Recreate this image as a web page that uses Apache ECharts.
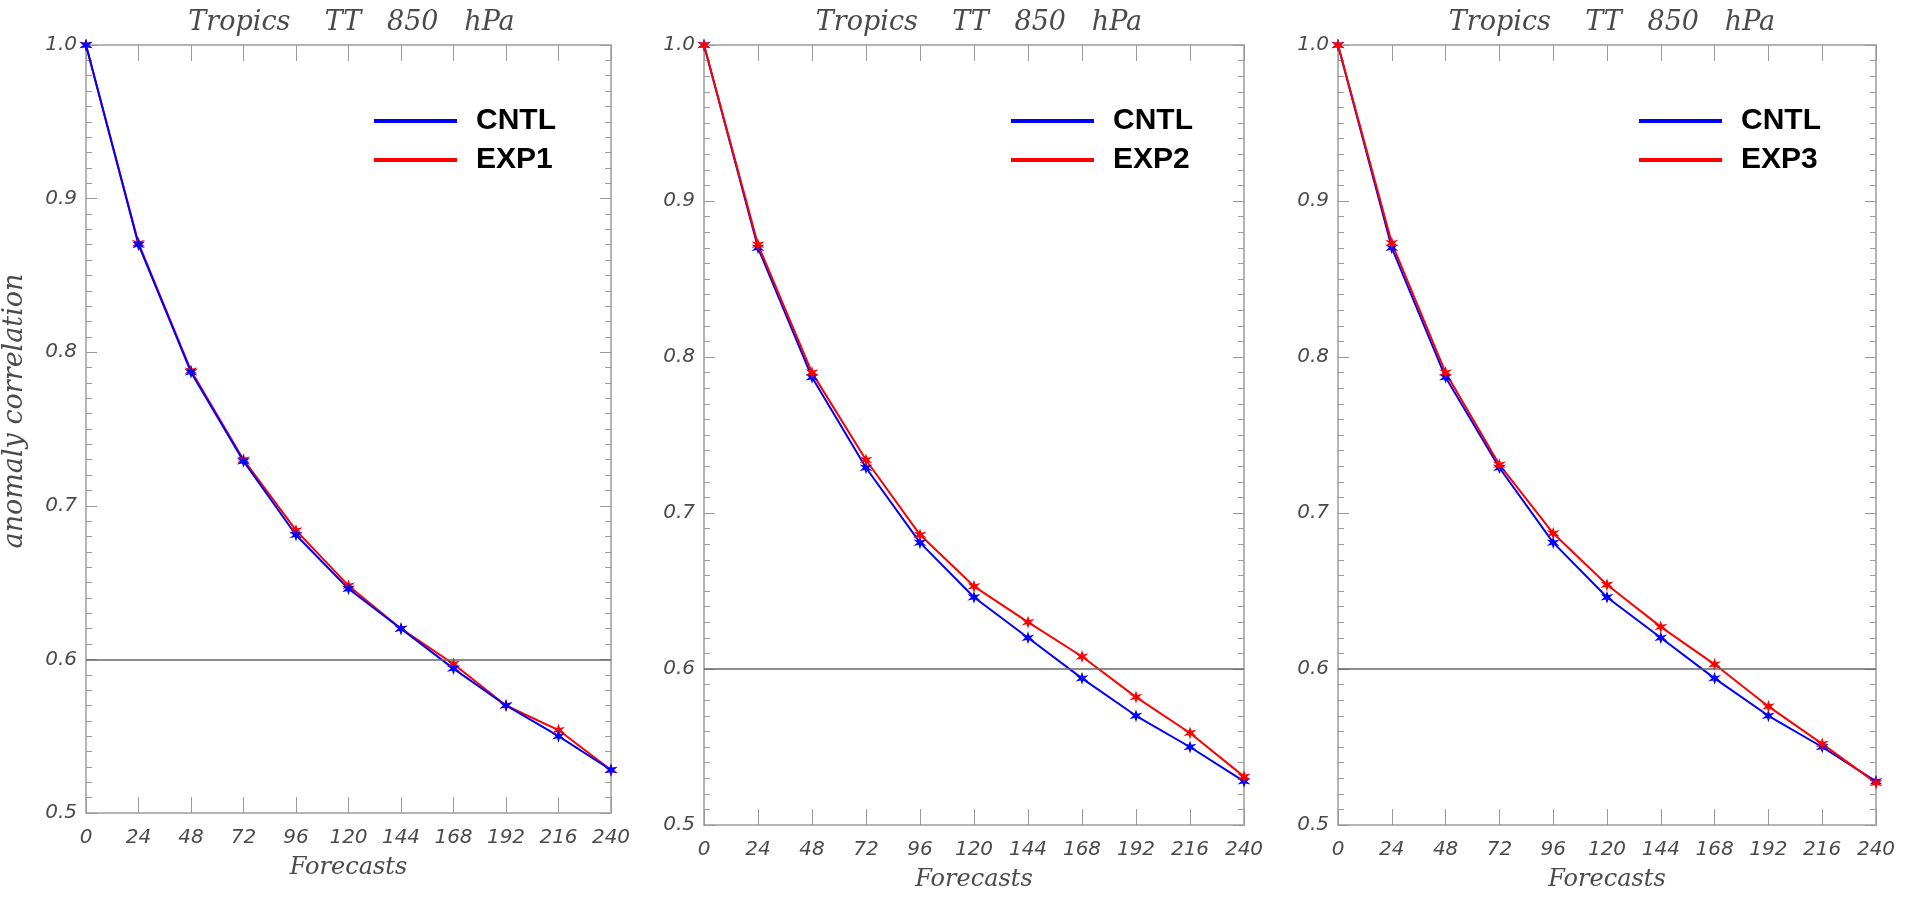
<!DOCTYPE html>
<html>
<head>
<meta charset="utf-8">
<script src="https://cdn.jsdelivr.net/npm/echarts@6/dist/echarts.min.js"></script>
<style>
html,body{margin:0;padding:0;background:#fff;}
#chart{width:1909px;height:897px;}
</style>
</head>
<body>
<div id="chart"></div>
<script>
// ---- data ----
const forecastHours = [0, 24, 48, 72, 96, 120, 144, 168, 192, 216, 240];
const cntl = [1.000, 0.870, 0.787, 0.729, 0.681, 0.646, 0.620, 0.594, 0.570, 0.550, 0.528];
const exp1 = [1.000, 0.871, 0.788, 0.730, 0.684, 0.648, 0.620, 0.597, 0.570, 0.554, 0.528];
const exp2 = [1.000, 0.872, 0.790, 0.734, 0.686, 0.653, 0.630, 0.608, 0.582, 0.559, 0.531];
const exp3 = [1.000, 0.873, 0.790, 0.731, 0.687, 0.654, 0.627, 0.603, 0.576, 0.552, 0.527];
const expNames = ['EXP1', 'EXP2', 'EXP3'];
const expData = [exp1, exp2, exp3];
const panelTitle = 'Tropics    TT   850   hPa';
const refLineValue = 0.6;

// ---- layout / style ----
const grids = [
  {left: 82, top: 45, width: 529, height: 768},
  {left: 704, top: 45, width: 540, height: 783},
  {left: 1338, top: 45, width: 538, height: 783}
];
const legendLeft = [369, 1006, 1634];
const BLUE = '#0000ff', RED = '#ff0000';
const AXIS_COLOR = '#b4b4b4', TICK_COLOR = '#9a9a9a';
const labelFont = {fontFamily: 'DejaVu Sans', fontStyle: 'italic', fontSize: 20, color: '#4a4a4a'};
const serifFont = {fontFamily: 'DejaVu Serif', fontStyle: 'italic', color: '#4a4a4a'};

function starPath(n, inner) {
  const pts = [];
  for (let k = 0; k < 2 * n; k++) {
    const a = Math.PI * k / n - Math.PI / 2;
    const r = (k % 2) ? inner : 1;
    pts.push((10 * r * Math.cos(a)).toFixed(2) + ',' + (10 * r * Math.sin(a)).toFixed(2));
  }
  return 'path://M' + pts.join('L') + 'Z';
}
const STAR = starPath(6, 0.38);

const pairs = (ys) => forecastHours.map((x, i) => [x, ys[i]]);

const option = {
  animation: false,
  backgroundColor: '#fff',
  title: [], grid: [], xAxis: [], yAxis: [], legend: [], series: []
};

grids.forEach((g, i) => {
  option.grid.push({left: g.left, top: g.top, width: g.width, height: g.height, containLabel: false});
  option.title.push({
    text: panelTitle,
    left: g.left + g.width / 2,
    textAlign: 'center',
    top: 4,
    textStyle: Object.assign({}, serifFont, {fontSize: 27, fontWeight: 'normal'})
  });
  // bottom x axis
  option.xAxis.push({
    type: 'value', gridIndex: i, position: 'bottom',
    min: 0, max: 240, interval: 24,
    name: 'Forecasts', nameLocation: 'middle', nameGap: 43,
    nameTextStyle: Object.assign({}, serifFont, {fontSize: 24}),
    axisLine: {show: true, onZero: false, lineStyle: {color: AXIS_COLOR, width: 2}},
    axisTick: {show: true, inside: true, length: 16, lineStyle: {color: TICK_COLOR, width: 1}},
    axisLabel: Object.assign({}, labelFont, {margin: 15}),
    splitLine: {show: false}
  });
  // top x axis (mirror)
  option.xAxis.push({
    type: 'value', gridIndex: i, position: 'top',
    min: 0, max: 240, interval: 24,
    axisLine: {show: true, onZero: false, lineStyle: {color: AXIS_COLOR, width: 2}},
    axisTick: {show: true, inside: true, length: 16, lineStyle: {color: TICK_COLOR, width: 1}},
    axisLabel: {show: false},
    splitLine: {show: false}
  });
  // left y axis
  const yLeft = {
    type: 'value', gridIndex: i, position: 'left',
    min: 0.5, max: 1.0, interval: 0.1,
    axisLine: {show: true, onZero: false, lineStyle: {color: AXIS_COLOR, width: 2}},
    axisTick: {show: true, inside: true, length: 11, lineStyle: {color: TICK_COLOR, width: 1}},
    minorTick: {show: true, splitNumber: 10, length: 6, lineStyle: {color: TICK_COLOR, width: 1}},
    axisLabel: Object.assign({}, labelFont, {margin: 9, formatter: v => v.toFixed(1)}),
    splitLine: {show: false}
  };
  if (i === 0) {
    yLeft.name = 'anomaly correlation';
    yLeft.nameLocation = 'middle';
    yLeft.nameRotate = 90;
    yLeft.nameGap = 58;
    yLeft.nameTextStyle = Object.assign({}, serifFont, {fontSize: 27, padding: [0, 0, 0, 36]});
  }
  option.yAxis.push(yLeft);
  // right y axis (mirror)
  option.yAxis.push({
    type: 'value', gridIndex: i, position: 'right',
    min: 0.5, max: 1.0, interval: 0.1,
    axisLine: {show: true, onZero: false, lineStyle: {color: AXIS_COLOR, width: 2}},
    axisTick: {show: true, inside: true, length: 11, lineStyle: {color: TICK_COLOR, width: 1}},
    minorTick: {show: true, splitNumber: 10, length: 6, lineStyle: {color: TICK_COLOR, width: 1}},
    axisLabel: {show: false},
    splitLine: {show: false}
  });

  option.legend.push({
    data: ['CNTL', expNames[i]],
    orient: 'vertical',
    left: legendLeft[i], top: 101,
    icon: 'rect', itemWidth: 83, itemHeight: 4, itemGap: 9,
    selectedMode: false,
    textStyle: {fontFamily: 'Liberation Sans', fontWeight: 'bold', fontSize: 30, color: '#000', lineHeight: 30, padding: [0, 0, 0, 14]}
  });

  const mk = {
    silent: true, symbol: ['none', 'none'],
    label: {show: false},
    lineStyle: {color: '#666666', width: 1.5, type: 'solid'},
    data: [{yAxis: refLineValue}]
  };
  const base = {
    type: 'line', xAxisIndex: 2 * i, yAxisIndex: 2 * i,
    symbol: STAR, symbolSize: 13, showSymbol: true,
    lineStyle: {width: 2}, z: 3
  };
  const sCntl = Object.assign({}, base, {
    name: 'CNTL', data: pairs(cntl),
    itemStyle: {color: BLUE}, lineStyle: {width: 2, color: BLUE}
  });
  const sExp = Object.assign({}, base, {
    name: expNames[i], data: pairs(expData[i]),
    itemStyle: {color: RED}, lineStyle: {width: 2, color: RED}
  });
  if (i === 0) {
    sExp.markLine = mk;
    option.series.push(sExp, sCntl);
  } else {
    sCntl.markLine = mk;
    option.series.push(sCntl, sExp);
  }
});

const chart = echarts.init(document.getElementById('chart'), null, {renderer: 'canvas'});
chart.setOption(option);
</script>
</body>
</html>
